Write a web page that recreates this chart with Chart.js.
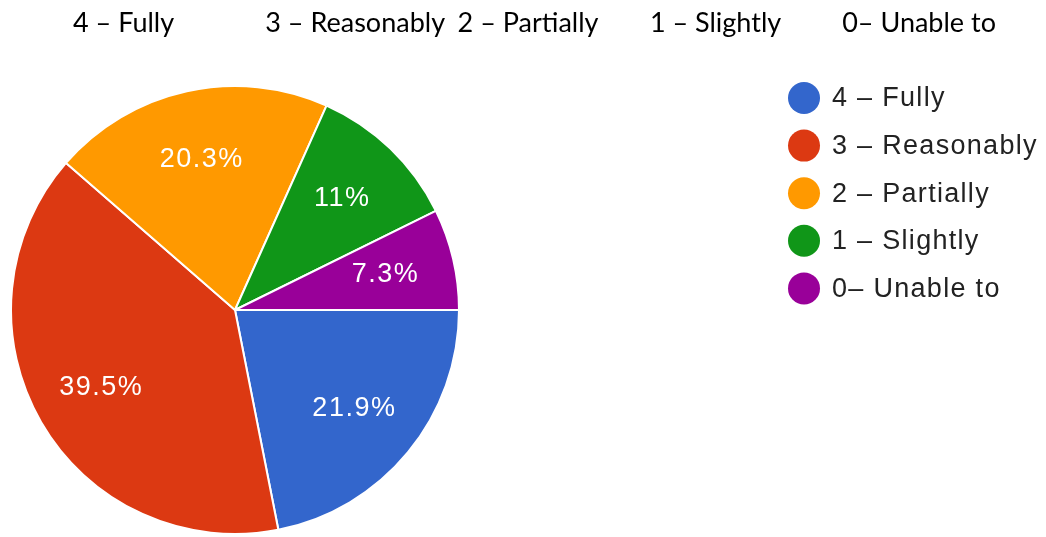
<!DOCTYPE html>
<html>
<head>
<meta charset="utf-8">
<script src="https://cdn.jsdelivr.net/npm/chart.js@4.4.1/dist/chart.umd.min.js"></script>
<style>
  html, body { margin: 0; padding: 0; background: #fff; }
  #wrap { position: relative; width: 1046px; height: 537px; }
</style>
</head>
<body>
<div id="wrap"><canvas id="myChart"></canvas></div>
<script>
"use strict";

// 回答カテゴリと割合
const categories = ["4 – Fully", "3 – Reasonably", "2 – Partially", "1 – Slightly", "0– Unable to"];
const shares = [21.9, 39.5, 20.3, 11, 7.3];
const sliceColors = ["#3366cc", "#dc3912", "#ff9900", "#109618", "#990099"];

// スライス内のパーセント表示
const sliceLabels = {
    id: "sliceLabels",
    afterDatasetsDraw(chart) {
        const ctx = chart.ctx;
        const meta = chart.getDatasetMeta(0);
        ctx.save();
        ctx.font = '27px "Liberation Sans", Arial, sans-serif';
        ctx.letterSpacing = "1.5px";
        ctx.fillStyle = "#ffffff";
        ctx.textAlign = "center";
        ctx.textBaseline = "middle";
        meta.data.forEach((arc, i) => {
            const mid = (arc.startAngle + arc.endAngle) / 2;
            const r = arc.outerRadius * 0.69;
            ctx.fillText(shares[i] + "%", arc.x + Math.cos(mid) * r, arc.y + Math.sin(mid) * r);
        });
        ctx.restore();
    }
};

// 上の見出し行と右側の凡例
const headerAndLegend = {
    id: "headerAndLegend",
    afterDraw(chart) {
        const ctx = chart.ctx;
        const labels = chart.data.labels;
        const colors = chart.data.datasets[0].backgroundColor;
        ctx.save();

        // 見出し
        ctx.font = '27px Lato, "Open Sans", sans-serif';
        ctx.fillStyle = "#000000";
        ctx.textAlign = "left";
        ctx.textBaseline = "alphabetic";
        labels.forEach((txt, i) => {
            ctx.fillText(txt, 73 + i * 192.3, 32);
        });

        // 凡例
        ctx.font = '27px "Liberation Sans", Arial, sans-serif';
        ctx.letterSpacing = "1.3px";
        ctx.textBaseline = "middle";
        labels.forEach((txt, i) => {
            const y = 98 + i * 47.6;
            ctx.beginPath();
            ctx.arc(804, y, 16, 0, Math.PI * 2);
            ctx.fillStyle = colors[i];
            ctx.fill();
            ctx.fillStyle = "#222222";
            ctx.fillText(txt, 832, y + 1);
        });
        ctx.restore();
    }
};

var ctx = document.getElementById("myChart").getContext("2d");
var myPieChart = new Chart(ctx, {
    type: "pie",
    data: {
        labels: categories,
        datasets: [
            {
                data: shares,
                backgroundColor: sliceColors,
                borderColor: "#ffffff",
                borderWidth: 2
            }
        ]
    },
    options: {
        responsive: true,
        maintainAspectRatio: false,
        animation: false,
        rotation: 90,
        layout: {
            padding: {left: 10, top: 83, right: 586, bottom: 0}
        },
        plugins: {
            legend: {display: false},
            tooltip: {enabled: false}
        }
    },
    plugins: [sliceLabels, headerAndLegend]
});
</script>
</body>
</html>
